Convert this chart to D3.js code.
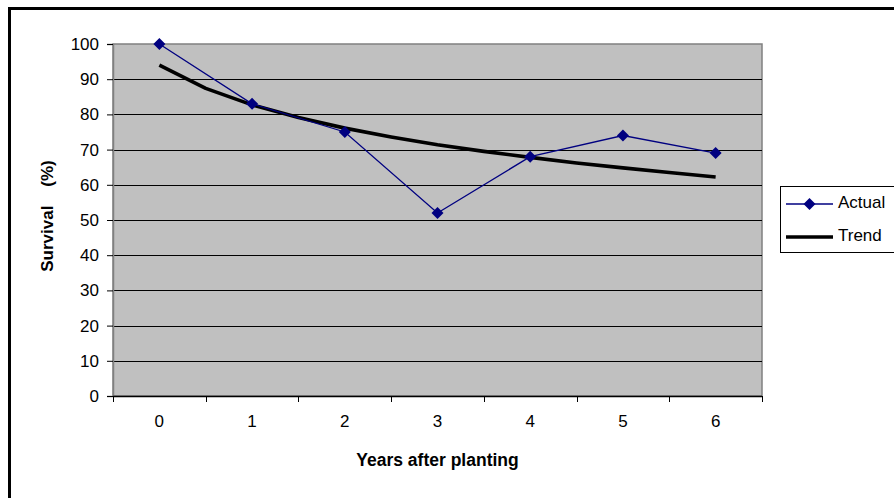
<!DOCTYPE html>
<html>
<head>
<meta charset="utf-8">
<script src="https://cdn.jsdelivr.net/npm/d3@7"></script>
<style>
  body { margin: 0; background: #fff; }
  svg text { font-family: "Liberation Sans", Arial, sans-serif; fill: #000; }
</style>
</head>
<body>
<div id="chartDiv"></div>
<script>
// data
const years = [0, 1, 2, 3, 4, 5, 6];
const actualVals = [100, 83, 75, 52, 68, 74, 69];
// trend line sampled every half year
const trendX = [0, 0.5, 1, 1.5, 2, 2.5, 3, 3.5, 4, 4.5, 5, 5.5, 6];
const trendVals = [94, 87.4, 82.7, 79.1, 76.1, 73.6, 71.4, 69.5, 67.8, 66.2, 64.8, 63.5, 62.2];
const yTicks = [0, 10, 20, 30, 40, 50, 60, 70, 80, 90, 100];

const W = 894, H = 498;
const plot = { l: 113, t: 44, r: 762, b: 396 };

const svg = d3.select('#chartDiv').append('svg')
  .attr('width', W).attr('height', H);

// outer chart border (runs off right / bottom)
svg.append('rect')
  .attr('x', 9.5).attr('y', 8.5)
  .attr('width', W + 20).attr('height', H + 20)
  .attr('fill', '#fff').attr('stroke', '#000').attr('stroke-width', 3);

const xBand = d3.scaleBand().domain(years).range([plot.l, plot.r]).padding(0);
const xPos = v => xBand(0) + xBand.bandwidth() * (v + 0.5);
const y = d3.scaleLinear().domain([0, 100]).range([plot.b, plot.t]);

// plot area
svg.append('rect')
  .attr('x', plot.l).attr('y', plot.t)
  .attr('width', plot.r - plot.l).attr('height', plot.b - plot.t)
  .attr('fill', '#c0c0c0').attr('stroke', '#808080').attr('stroke-width', 1.5);

// gridlines
svg.append('g').selectAll('line')
  .data(yTicks.filter(d => d > 0 && d < 100))
  .join('line')
  .attr('x1', plot.l).attr('x2', plot.r)
  .attr('y1', d => Math.round(y(d)) + 0.5).attr('y2', d => Math.round(y(d)) + 0.5)
  .attr('stroke', '#000').attr('stroke-width', 1);

// y axis
const yAxis = svg.append('g')
  .attr('transform', `translate(${plot.l},0)`)
  .call(d3.axisLeft(y).tickValues(yTicks).tickSize(6).tickPadding(8));
yAxis.select('.domain').attr('stroke', '#808080').attr('stroke-width', 1.5);
yAxis.selectAll('.tick line').attr('stroke', '#000');
yAxis.selectAll('text').attr('font-size', 17).attr('fill', '#000');

// x axis: ticks between categories
const xAxisG = svg.append('g')
  .attr('transform', `translate(0,${plot.b})`);
xAxisG.append('line')
  .attr('x1', plot.l).attr('x2', plot.r).attr('y1', 0.5).attr('y2', 0.5)
  .attr('stroke', '#000').attr('stroke-width', 1.5);
const bounds = years.map(d => xBand(d)).concat([plot.r]);
xAxisG.selectAll('.xtick').data(bounds).join('line')
  .attr('class', 'xtick')
  .attr('x1', d => Math.round(d) + 0.5).attr('x2', d => Math.round(d) + 0.5)
  .attr('y1', 0).attr('y2', 6)
  .attr('stroke', '#000');
xAxisG.selectAll('.xlab').data(years).join('text')
  .attr('class', 'xlab')
  .attr('x', d => xPos(d)).attr('y', 27)
  .attr('text-anchor', 'middle')
  .attr('dominant-baseline', 'middle')
  .attr('font-size', 17)
  .text(d => d);

// axis titles
svg.append('text')
  .attr('x', xPos(3)).attr('y', 466)
  .attr('text-anchor', 'middle')
  .attr('font-size', 17.5).attr('font-weight', 'bold')
  .text('Years after planting');

svg.append('text')
  .attr('transform', 'translate(53,216) rotate(-90)')
  .attr('text-anchor', 'middle')
  .attr('font-size', 17).attr('font-weight', 'bold')
  .style('white-space', 'pre')
  .text('Survival    (%)');

// trend line
const trendLine = d3.line().x(d => xPos(d[0])).y(d => y(d[1]));
svg.append('path')
  .datum(trendX.map((d, i) => [d, trendVals[i]]))
  .attr('d', trendLine)
  .attr('fill', 'none').attr('stroke', '#000').attr('stroke-width', 3.6)
  .attr('stroke-linejoin', 'round');

// actual series
const actualLine = d3.line().x((d, i) => xPos(years[i])).y(d => y(d));
svg.append('path')
  .datum(actualVals)
  .attr('d', actualLine)
  .attr('fill', 'none').attr('stroke', '#000080').attr('stroke-width', 1.3);

const diamond = d3.symbol().type(d3.symbolSquare).size(72);
svg.append('g').selectAll('path')
  .data(actualVals)
  .join('path')
  .attr('d', diamond)
  .attr('transform', (d, i) => `translate(${xPos(years[i])},${y(d)}) rotate(45)`)
  .attr('fill', '#000080');

// legend
const leg = svg.append('g');
leg.append('rect')
  .attr('x', 780.5).attr('y', 186.5).attr('width', 130).attr('height', 66)
  .attr('fill', '#fff').attr('stroke', '#000').attr('stroke-width', 1);
leg.append('line')
  .attr('x1', 786).attr('x2', 833).attr('y1', 204).attr('y2', 204)
  .attr('stroke', '#000080').attr('stroke-width', 1.3);
leg.append('path')
  .attr('d', diamond)
  .attr('transform', 'translate(809.5,204) rotate(45)')
  .attr('fill', '#000080');
leg.append('line')
  .attr('x1', 786).attr('x2', 833).attr('y1', 237).attr('y2', 237)
  .attr('stroke', '#000').attr('stroke-width', 3.6);
leg.append('text').attr('x', 838).attr('y', 204)
  .attr('dominant-baseline', 'middle').attr('font-size', 17).text('Actual');
leg.append('text').attr('x', 838).attr('y', 237)
  .attr('dominant-baseline', 'middle').attr('font-size', 17).text('Trend');
</script>
</body>
</html>
